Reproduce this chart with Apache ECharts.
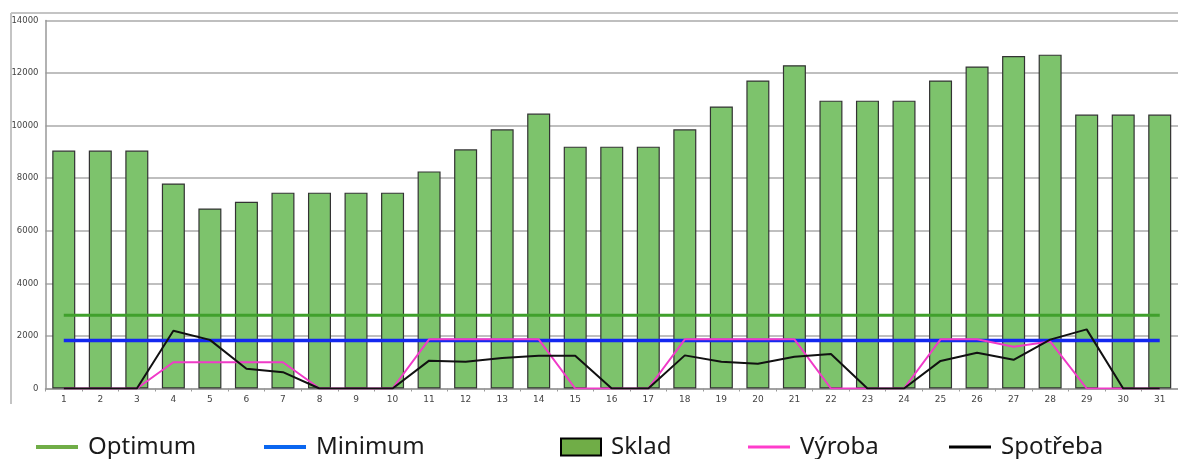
<!DOCTYPE html>
<html>
<head>
<meta charset="utf-8">
<script src="https://cdn.jsdelivr.net/npm/echarts@6/dist/echarts.min.js"></script>
<style>
html,body{margin:0;padding:0;background:#fff;}
#chart{width:1178px;height:459px;}
</style>
</head>
<body>
<div id="chart"></div>
<script>
const days = ['1','2','3','4','5','6','7','8','9','10','11','12','13','14','15','16','17','18','19','20','21','22','23','24','25','26','27','28','29','30','31'];
const sklad = [9050,9050,9050,7800,6850,7100,7450,7450,7450,7450,8260,9100,9860,10460,9200,9200,9200,9860,10730,11720,12300,10950,10950,10950,11720,12250,12650,12700,10420,10420,10420];
const vyroba = [0,0,0,1000,1000,1000,1000,0,0,0,1870,1870,1870,1870,0,0,0,1870,1870,1870,1870,0,0,0,1870,1870,1590,1790,0,0,0];
const spotreba = [0,0,0,2200,1850,750,620,0,0,0,1060,1020,1160,1250,1250,0,0,1260,1020,940,1210,1310,0,0,1050,1360,1090,1860,2250,0,0];
const optimumValue = 2790;
const minimumValue = 1830;
const optimum = days.map(() => optimumValue);
const minimum = days.map(() => minimumValue);
const yTicks = [0,2000,4000,6000,8000,10000,12000,14000];

const chart = echarts.init(document.getElementById('chart'));
const legendText = {fontFamily:'Noto Sans', fontSize:24, color:'#1a1a1a'};
function mkLegend(name, left, icon, w, h, style){
  return {
    data:[{name:name, icon:icon, itemStyle:style}],
    left:left, top:435, padding:0, itemWidth:w, itemHeight:h, itemGap:0,
    textStyle:Object.assign({padding:[0,0,0,5]}, legendText),
    selectedMode:false
  };
}
chart.setOption({
  animation:false,
  graphic:[
    {type:'line', shape:{x1:11,y1:13,x2:11,y2:404}, style:{stroke:'#c4c4c4', lineWidth:2}},
    {type:'line', shape:{x1:11,y1:13,x2:1178,y2:13}, style:{stroke:'#c4c4c4', lineWidth:2}}
  ],
  grid:{left:45.5, top:20.5, width:1134.5, height:368, containLabel:false},
  legend:[
    mkLegend('Optimum', 36, 'rect', 42, 4, {color:'#70ad47', borderWidth:0}),
    mkLegend('Minimum', 264, 'rect', 42, 4, {color:'#0a66f0', borderWidth:0}),
    mkLegend('Sklad', 560, 'rect', 40, 17, {color:'#70ad47', borderColor:'#000', borderWidth:2}),
    mkLegend('Výroba', 748, 'rect', 42, 3, {color:'#ff3ccc', borderWidth:0}),
    mkLegend('Spotřeba', 949, 'rect', 42, 3, {color:'#000', borderWidth:0})
  ],
  xAxis:{
    type:'category', data:days, boundaryGap:true,
    axisLine:{lineStyle:{color:'#999', width:1.5}},
    axisTick:{show:true, length:3, lineStyle:{color:'#999'}},
    axisLabel:{fontSize:9, color:'#444', margin:7, fontFamily:'DejaVu Sans', interval:0}
  },
  yAxis:{
    type:'value', min:0, max:14000, interval:2000,
    axisLine:{show:true, lineStyle:{color:'#999', width:1.5}},
    axisTick:{show:false},
    axisLabel:{fontSize:8.5, color:'#444', margin:7, fontFamily:'DejaVu Sans', formatter:v=>yTicks.includes(v)?String(v):''},
    splitLine:{lineStyle:{color:'#aaa', width:1.5}}
  },
  series:[
    {name:'Sklad', type:'bar', data:sklad, barWidth:'63%', z:1,
     itemStyle:{color:'#7dc36c', borderColor:'#333', borderWidth:1.2}},
    {name:'Optimum', type:'line', data:optimum, symbol:'none', z:3,
     lineStyle:{color:'#40a02c', width:3}, itemStyle:{color:'#70ad47'}},
    {name:'Minimum', type:'line', data:minimum, symbol:'none', z:3,
     lineStyle:{color:'#1428f0', width:3.5}, itemStyle:{color:'#0a66f0'}},
    {name:'Výroba', type:'line', data:vyroba, symbol:'none', z:4,
     lineStyle:{color:'#f03ac8', width:2}, itemStyle:{color:'#ff3ccc'}},
    {name:'Spotřeba', type:'line', data:spotreba, symbol:'none', z:5,
     lineStyle:{color:'#111', width:2}, itemStyle:{color:'#000'}}
  ]
});
</script>
</body>
</html>
